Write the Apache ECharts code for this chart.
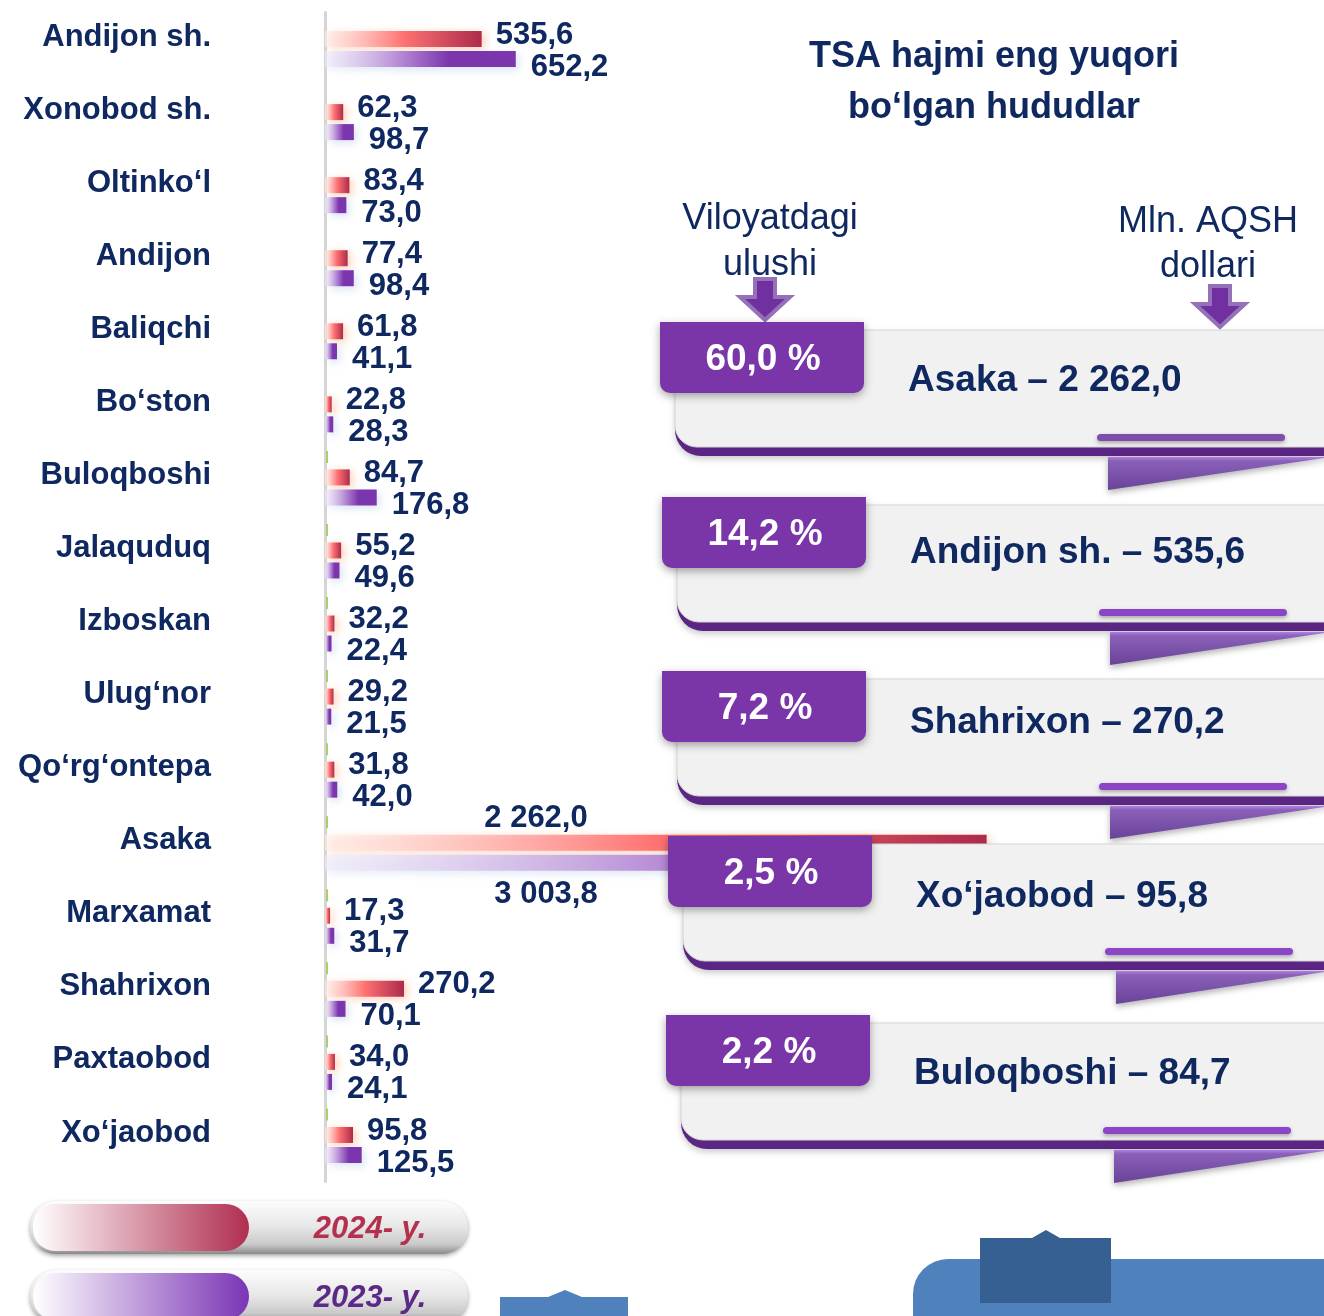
<!DOCTYPE html>
<html>
<head>
<meta charset="utf-8">
<title>TSA hajmi</title>
<script src="https://cdn.jsdelivr.net/npm/echarts@6/dist/echarts.min.js"></script>
<style>
    html, body { margin: 0; padding: 0; background: #fff; }
    #main { width: 1324px; height: 1316px; }
</style>
</head>
<body>
<div id="main"></div>
<script>
// hududlar va qiymatlar (mln. AQSH dollari)
var regions = ['Andijon sh.', 'Xonobod sh.', 'Oltinko‘l', 'Andijon', 'Baliqchi', 'Bo‘ston', 'Buloqboshi', 'Jalaquduq',
    'Izboskan', 'Ulug‘nor', 'Qo‘rg‘ontepa', 'Asaka', 'Marxamat', 'Shahrixon', 'Paxtaobod', 'Xo‘jaobod'];
var values2024 = [535.6, 62.3, 83.4, 77.4, 61.8, 22.8, 84.7, 55.2, 32.2, 29.2, 31.8, 2262.0, 17.3, 270.2, 34.0, 95.8];
var values2023 = [652.2, 98.7, 73.0, 98.4, 41.1, 28.3, 176.8, 49.6, 22.4, 21.5, 42.0, 3003.8, 31.7, 70.1, 24.1, 125.5];
var seriesNames = ['2024- y.', '2023- y.'];

// eng yuqori hududlar
var topNames = ['Asaka', 'Andijon sh.', 'Shahrixon', 'Xo‘jaobod', 'Buloqboshi'];
var topValues = [2262.0, 535.6, 270.2, 95.8, 84.7];
var topShares = [60.0, 14.2, 7.2, 2.5, 2.2];

var NAVY = '#0f2960';
var FONT = '"Liberation Sans", Arial, sans-serif';

function fmt(v) {
    var s = v.toFixed(1).split('.');
    var intPart = s[0].replace(/\B(?=(\d{3})+(?!\d))/g, ' ');
    return intPart + ',' + s[1];
}

var chart = echarts.init(document.getElementById('main'));

var redGrad = new echarts.graphic.LinearGradient(0, 0, 1, 0, [
    {offset: 0, color: 'rgba(255,240,238,0.6)'},
    {offset: 0.5, color: '#ff7272'},
    {offset: 1, color: '#ad2a4c'}
]);
var purpleGrad = new echarts.graphic.LinearGradient(0, 0, 1, 0, [
    {offset: 0, color: 'rgba(243,236,250,0.6)'},
    {offset: 0.4, color: '#b486d3'},
    {offset: 0.65, color: '#7b35ad'},
    {offset: 1, color: '#7b35ad'}
]);

var ASAKA = regions.indexOf('Asaka');

var data2024 = values2024.map(function (v, i) {
    if (i === ASAKA) {
        return {value: v, label: {position: [211, -16], align: 'center', verticalAlign: 'middle', distance: 0, offset: [0, 0]}};
    }
    return v;
});
var data2023 = values2023.map(function (v, i) {
    if (i === ASAKA) {
        return {value: v, label: {position: [221, 40], align: 'center', verticalAlign: 'middle', distance: 0, offset: [0, 0]}};
    }
    return v;
});

// yashil chiziqchalar (kategoriya chegaralari)
var tickIdx = [];
for (var k = 5; k < regions.length - 1; k++) tickIdx.push([0, k]);

var valueLabel = {
    show: true,
    position: 'right',
    fontSize: 31,
    fontWeight: 'bold',
    fontFamily: FONT,
    color: NAVY,
    formatter: function (p) { return fmt(p.value); }
};

var graphics = [];

// sarlavha
graphics.push({type: 'text', z: 100, style: {text: 'TSA hajmi eng yuqori\nbo‘lgan hududlar', x: 994, y: 83, align: 'center', verticalAlign: 'middle',
    font: 'bold 36px ' + FONT, fill: NAVY, lineHeight: 51}});
graphics.push({type: 'text', z: 100, style: {text: 'Viloyatdagi\nulushi', x: 770, y: 242, align: 'center', verticalAlign: 'middle',
    font: '36px ' + FONT, fill: NAVY, lineHeight: 46}});
graphics.push({type: 'text', z: 100, style: {text: 'Mln. AQSH\ndollari', x: 1208, y: 245, align: 'center', verticalAlign: 'middle',
    font: '36px ' + FONT, fill: NAVY, lineHeight: 45}});

function arrow(cx, y0) {
    graphics.push({type: 'polygon', z: 100, shape: {points: [
        [cx - 10, y0], [cx + 10, y0], [cx + 10, y0 + 18], [cx + 25, y0 + 18], [cx, y0 + 41], [cx - 25, y0 + 18], [cx - 10, y0 + 18]
    ]}, style: {fill: '#7030a0', stroke: '#9471b8', lineWidth: 4}});
}
arrow(765, 279);
arrow(1220, 286);

// panellar
var tabTops = [322, 497, 671, 836, 1015];
var dxs = [0, 2, 2, 8, 6];
var textDy = [59, 56, 52, 61, 59];
topNames.forEach(function (name, i) {
    var T = tabTops[i], dx = dxs[i];
    graphics.push({type: 'rect', z: 100, shape: {x: 675 + dx, y: T + 8, width: 700, height: 126, r: [0, 40, 0, 26]},
        style: {fill: '#5b2583', shadowBlur: 6, shadowColor: 'rgba(0,0,0,0.2)', shadowOffsetY: 3}});
    graphics.push({type: 'rect', z: 101, shape: {x: 675 + dx, y: T + 8, width: 700, height: 117, r: [0, 40, 0, 22]},
        style: {fill: '#f1f1f1', stroke: '#d6d6d6', lineWidth: 1}});
    graphics.push({type: 'rect', z: 102, shape: {x: 1097 + dx, y: T + 112, width: 188, height: 7, r: 3.5},
        style: {fill: i === 0 ? '#7d4fa9' : '#8d45c8', shadowBlur: 4, shadowColor: 'rgba(0,0,0,0.3)', shadowOffsetY: 2}});
    graphics.push({type: 'polygon', z: 100, shape: {points: [[1108 + dx, T + 135], [1330, T + 135], [1108 + dx, T + 168]]},
        style: {fill: new echarts.graphic.LinearGradient(0, 0, 0, 1, [
            {offset: 0, color: '#b07ee0'}, {offset: 0.12, color: '#8a60b8'}, {offset: 1, color: '#6a4298'}
        ]), shadowBlur: 6, shadowColor: 'rgba(0,0,0,0.3)', shadowOffsetY: 3}});
    graphics.push({type: 'rect', z: 103, shape: {x: 660 + dx, y: T, width: 204, height: 71, r: [0, 0, 10, 10]},
        style: {fill: '#7a36a8', shadowBlur: 8, shadowColor: 'rgba(0,0,0,0.35)', shadowOffsetY: 3}});
    graphics.push({type: 'text', z: 104, style: {text: fmt(topShares[i]) + ' %', x: 763 + dx, y: T + 38, align: 'center', verticalAlign: 'middle',
        font: 'bold 37px ' + FONT, fill: '#ffffff'}});
    graphics.push({type: 'text', z: 104, style: {text: name + ' – ' + fmt(topValues[i]), x: 908 + dx, y: T + textDy[i], align: 'left', verticalAlign: 'middle',
        font: 'bold 37px ' + FONT, fill: NAVY}});
});

// legenda
var legendFills = [
    new echarts.graphic.LinearGradient(0, 0, 1, 0, [{offset: 0, color: '#ffffff'}, {offset: 1, color: '#b02e50'}]),
    new echarts.graphic.LinearGradient(0, 0, 1, 0, [{offset: 0, color: '#ffffff'}, {offset: 1, color: '#7b35b5'}])
];
var legendColors = ['#b3304f', '#5b2a86'];
var legendTops = [1201, 1270];
seriesNames.forEach(function (nm, i) {
    var y = legendTops[i];
    graphics.push({type: 'rect', z: 100, shape: {x: 30, y: y, width: 438, height: 53, r: 26},
        style: {fill: new echarts.graphic.LinearGradient(0, 0, 0, 1, [
            {offset: 0, color: '#fdfdfd'}, {offset: 0.5, color: '#e6e6e6'}, {offset: 0.82, color: '#c9c9c9'}, {offset: 1, color: '#8a8a8a'}
        ]), shadowBlur: 4, shadowColor: 'rgba(0,0,0,0.35)', shadowOffsetY: 2}});
    graphics.push({type: 'rect', z: 101, shape: {x: 33, y: y + 3, width: 216, height: 47, r: [22, 24, 24, 22]},
        style: {fill: legendFills[i]}});
    graphics.push({type: 'text', z: 102, style: {text: nm, x: 370, y: y + 28, align: 'center', verticalAlign: 'middle',
        font: 'italic bold 31px ' + FONT, fill: legendColors[i]}});
});

// pastki ko'k shakllar
graphics.push({type: 'polygon', z: 100, shape: {points: [[500, 1297], [548, 1297], [565, 1290], [582, 1297], [628, 1297], [628, 1316], [500, 1316]]},
    style: {fill: '#4f81bd'}});
graphics.push({type: 'rect', z: 100, shape: {x: 913, y: 1259, width: 420, height: 70, r: [35, 0, 0, 0]}, style: {fill: '#4f81bd'}});
graphics.push({type: 'polygon', z: 101, shape: {points: [[980, 1238], [1032, 1238], [1046, 1230], [1060, 1238], [1111, 1238], [1111, 1303], [980, 1303]]},
    style: {fill: '#376092'}});

var option = {
    animation: false,
    grid: {left: 325, top: 12.5, right: 63, bottom: 134.5},
    xAxis: {type: 'value', min: 0, max: 3200, show: false},
    yAxis: {
        type: 'category',
        inverse: true,
        data: regions,
        axisLine: {show: true, lineStyle: {color: '#d5d5d5', width: 3}},
        axisTick: {show: false},
        splitLine: {show: false},
        axisLabel: {margin: 114, fontSize: 31, fontWeight: 'bold', fontFamily: FONT, color: NAVY,
            verticalAlign: 'bottom', lineHeight: 24}
    },
    series: [
        {
            name: seriesNames[0],
            type: 'bar',
            data: data2024,
            barWidth: 16,
            barGap: '25%',
            itemStyle: {color: redGrad, shadowBlur: 8, shadowColor: 'rgba(255,150,80,0.45)', shadowOffsetX: 3, shadowOffsetY: 2},
            label: echarts.util.merge({distance: 14, offset: [0, -4]}, valueLabel)
        },
        {
            name: seriesNames[1],
            type: 'bar',
            data: data2023,
            barWidth: 16,
            itemStyle: {color: purpleGrad, shadowBlur: 8, shadowColor: 'rgba(170,195,230,0.45)', shadowOffsetX: 3, shadowOffsetY: 3},
            label: echarts.util.merge({distance: 15, offset: [0, 8]}, valueLabel)
        },
        {
            type: 'custom',
            data: tickIdx,
            encode: {x: 0, y: 1},
            z: 3,
            silent: true,
            renderItem: function (params, api) {
                var p = api.coord([0, api.value(1)]);
                var band = api.size([0, 1])[1];
                return {type: 'line', shape: {x1: p[0] + 2, y1: p[1] + band / 2, x2: p[0] + 2, y2: p[1] + band / 2 + 12},
                    style: {stroke: '#a8cf6a', lineWidth: 2}};
            }
        }
    ],
    graphic: graphics
};

chart.setOption(option);
</script>
</body>
</html>
